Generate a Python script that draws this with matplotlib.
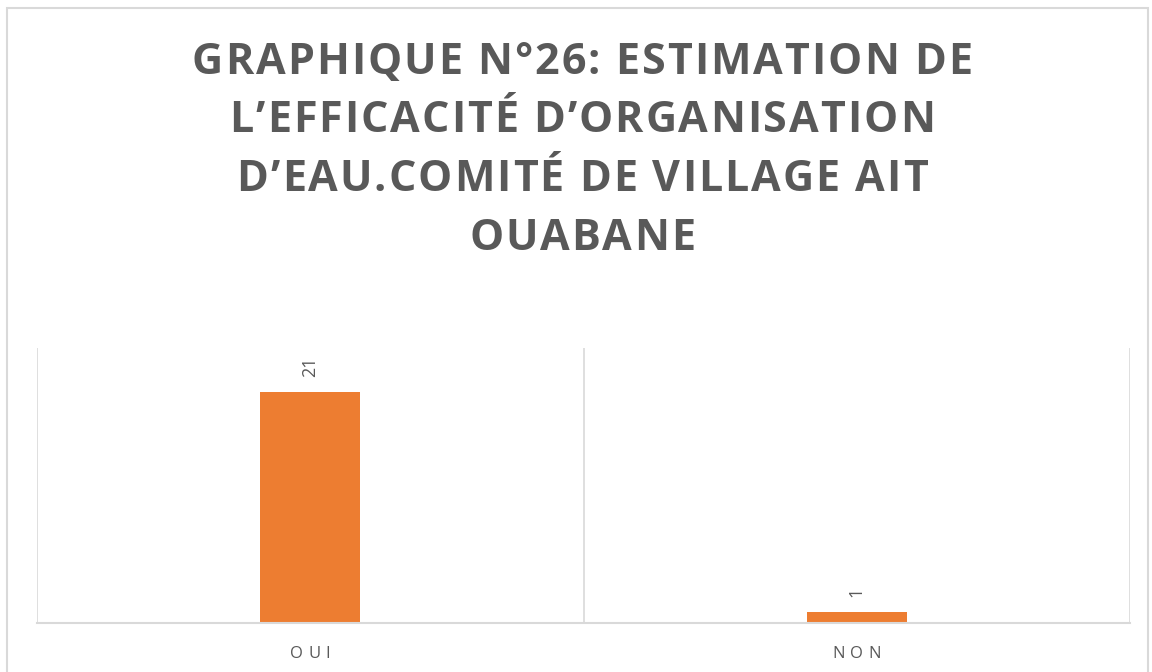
import matplotlib.pyplot as plt
from matplotlib.patches import Rectangle

categories = ['OUI', 'NON']
values = [21, 1]
title_lines = ["GRAPHIQUE N°26: ESTIMATION DE",
               "L’EFFICACITÉ D’ORGANISATION",
               "D’EAU.COMITÉ DE VILLAGE AIT",
               "OUABANE"]

W, H = 1152, 672
fig = plt.figure(figsize=(W / 100, H / 100), dpi=100)
renderer = fig.canvas.get_renderer()


def spaced_text(xc, y_base, s, tracking, **kw):
    # draw s centred on pixel xc, baseline at pixel y_base (from top), with extra letter spacing
    widths = []
    for ch in s:
        t = fig.text(0, 0, ch, **kw)
        widths.append(t.get_window_extent(renderer).width)
        t.remove()
    total = sum(widths) + tracking * (len(s) - 1)
    x = xc - total / 2
    for ch, w in zip(s, widths):
        fig.text(x / W, 1 - y_base / H, ch, ha='left', va='baseline', **kw)
        x += w + tracking


fig.patches.append(Rectangle((7 / W, -0.1), 1141 / W, 1 - 8 / H + 0.1,
                             transform=fig.transFigure, fill=False,
                             edgecolor='#D9D9D9', linewidth=1.5))

ax = fig.add_axes([37 / W, 1 - 623 / H, (1130 - 37) / W, (623 - 348) / H])
x = range(len(categories))
ax.bar(x, values, width=0.183, color='#ED7D31')
ax.set_xlim(-0.5, 1.5)
ax.set_ylim(0, 25)
for v in [-0.5, 0.5, 1.5]:
    ax.axvline(v, color='#D9D9D9', linewidth=1.2)
for s in ['top', 'left', 'right']:
    ax.spines[s].set_visible(False)
ax.spines['bottom'].set_color('#D9D9D9')
ax.spines['bottom'].set_linewidth(1.5)
ax.set_yticks([])
ax.set_xticks([])

for i, v in zip(x, values):
    ax.annotate(str(v), (i, v), xytext=(0, 11), textcoords='offset points',
                rotation=90, ha='center', va='bottom', fontsize=13,
                color='#595959', family='Open Sans')

# category labels, letter spaced, under each bar
for i, c in zip(x, categories):
    px = ax.transData.transform((i, 0))[0]
    spaced_text(px, 658, c, 5, fontsize=12, color='#595959', family='Open Sans')

for k, line in enumerate(title_lines):
    spaced_text(582, 74 + 58.5 * k, line, 2, fontsize=31, fontweight='bold',
                color='#595959', family='Open Sans')

fig.savefig('out.png', dpi=100)
